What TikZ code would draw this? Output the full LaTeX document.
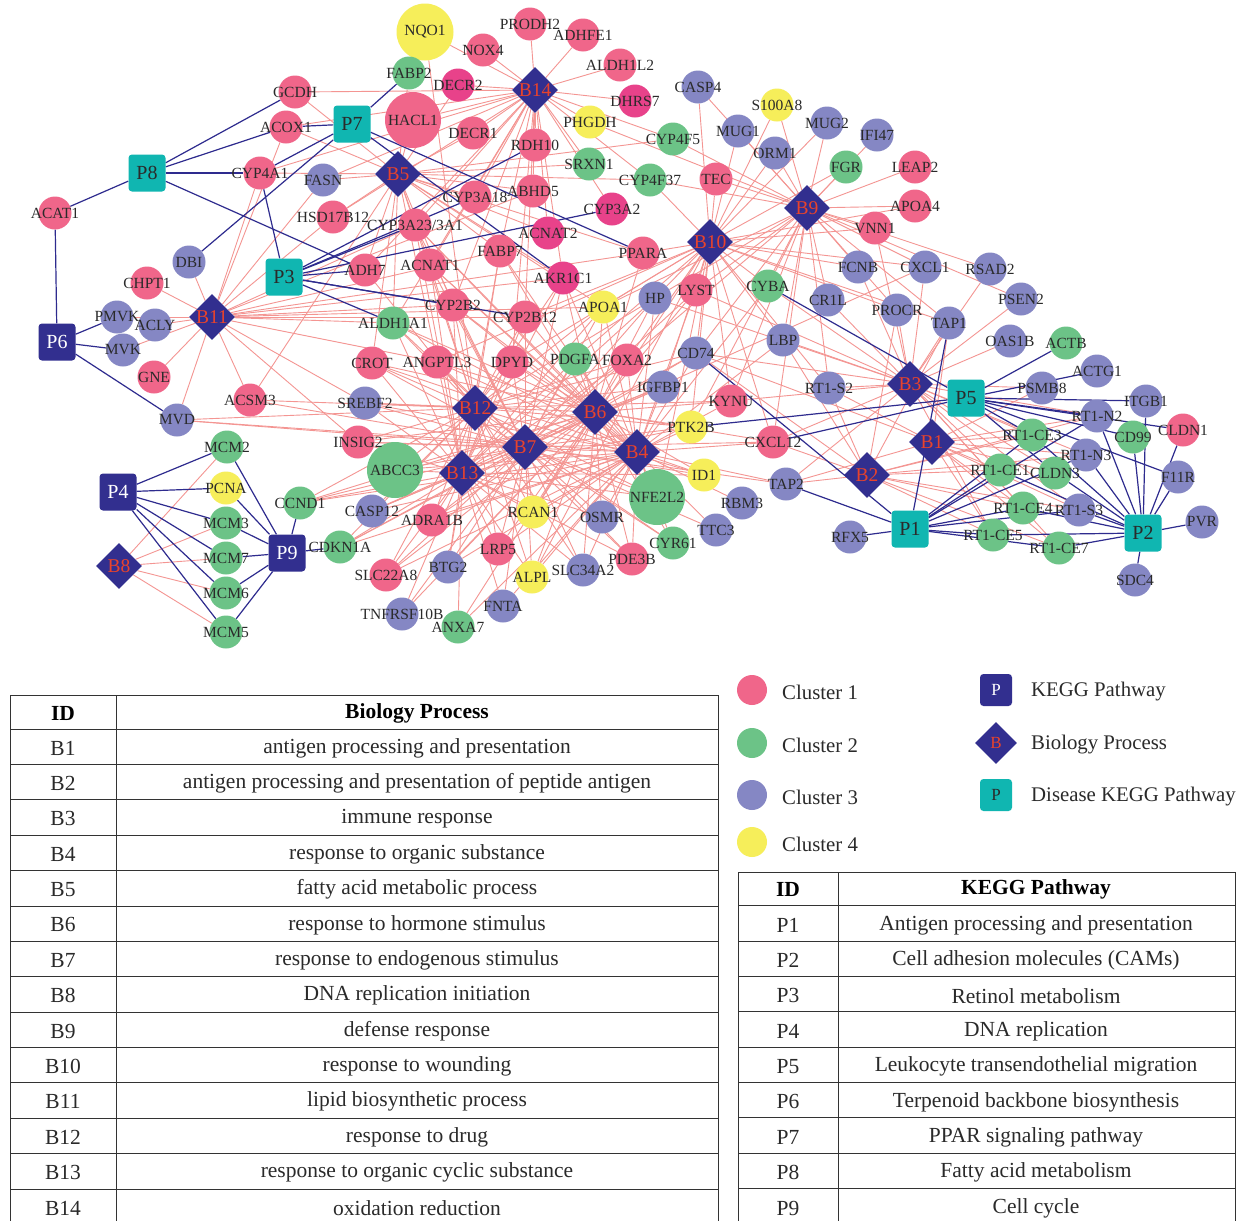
\documentclass[tikz,border=0pt]{standalone}
\usepackage{fontspec}
\setmainfont{Liberation Serif}
\usetikzlibrary{shapes.geometric,backgrounds}
\pgfdeclarelayer{fg}
\pgfsetlayers{background,main,fg}
\definecolor{cA}{HTML}{F0668A}
\definecolor{cM}{HTML}{E8428A}
\definecolor{cG}{HTML}{6CC387}
\definecolor{cL}{HTML}{8587C4}
\definecolor{cY}{HTML}{F6EE5A}
\definecolor{navyc}{HTML}{322F8F}
\definecolor{tealc}{HTML}{10B6B1}
\definecolor{bred}{HTML}{E8432C}
\definecolor{epink}{HTML}{F49592}
\definecolor{enavy}{HTML}{2E2B8E}
\definecolor{txt}{HTML}{2A2A2A}
\newcommand{\tabfont}{\fontsize{21.5}{24}\selectfont}
\newcommand{\legfont}{\fontsize{20.8}{24}\selectfont}
\newcommand{\gn}[5][33]{%
  \node[gcirc,fill=#5,minimum size=#1pt] (#2) at (#3) {};
  \begin{pgfonlayer}{fg}\node[glab] (#2t) at (#3) {#4};\end{pgfonlayer}}
\begin{document}
\begin{tikzpicture}[x=1pt,y=-1pt,
  gcirc/.style={circle,draw=none,inner sep=0pt},
  glab/.style={inner sep=0pt,text=txt,font=\fontsize{15.5}{16}\selectfont},
  bdia/.style={diamond,fill=navyc,inner sep=0pt,minimum size=46pt,text=bred,font=\fontsize{19.5}{19.5}\selectfont},
  pteal/.style={rectangle,rounded corners=3.5pt,fill=tealc,minimum size=37pt,inner sep=0pt,text=txt,font=\fontsize{20}{20}\selectfont},
  pnavy/.style={rectangle,rounded corners=3.5pt,fill=navyc,minimum size=37pt,inner sep=0pt,text=white,font=\fontsize{20}{20}\selectfont},
  pe/.style={draw=epink,line width=0.9pt},
  ne/.style={draw=enavy,line width=1.2pt},
  tl/.style={draw=black!80,line width=0.8pt},
  tt/.style={inner sep=0pt,text=txt,font=\tabfont},
  lt/.style={inner sep=0pt,text=txt,font=\legfont,anchor=west},
  th/.style={inner sep=0pt,text=black,font=\tabfont\bfseries}]
\useasboundingbox (0,0) rectangle (1245,1221);
% ---------- gene nodes ----------
\gn[57]{NQO1}{425,32}{NQO1}{cY}
\gn{PRODH2}{530,24}{PRODH2}{cA}
\gn{ADHFE1}{583,35}{ADHFE1}{cA}
\gn{NOX4}{483,50}{NOX4}{cA}
\gn{ALDH1L2}{620,65}{ALDH1L2}{cA}
\gn{FABP2}{409,73}{FABP2}{cG}
\gn{DECR2}{458,85}{DECR2}{cM}
\gn{DHRS7}{635,101}{DHRS7}{cM}
\gn{CASP4}{698,87}{CASP4}{cL}
\gn{S100A8}{777,105}{S100A8}{cY}
\gn{MUG2}{827,123}{MUG2}{cL}
\gn{IFI47}{877,135}{IFI47}{cL}
\gn{MUG1}{738,131}{MUG1}{cL}
\gn{ORM1}{775,153}{ORM1}{cL}
\gn{FGR}{846,167}{FGR}{cG}
\gn{LEAP2}{915,167}{LEAP2}{cA}
\gn{APOA4}{915,206}{APOA4}{cA}
\gn{VNN1}{875,228}{VNN1}{cA}
\gn{TEC}{716,179}{TEC}{cA}
\gn{CYP4F5}{673,139}{CYP4F5}{cG}
\gn{CYP4F37}{650,180}{CYP4F37}{cG}
\gn{PHGDH}{590,122}{PHGDH}{cY}
\gn{SRXN1}{589,164}{SRXN1}{cG}
\gn{CYP3A2}{612,209}{CYP3A2}{cM}
\gn{RDH10}{535,145}{RDH10}{cA}
\gn{ABHD5}{533,191}{ABHD5}{cA}
\gn{DECR1}{473,133}{DECR1}{cA}
\gn[56]{HACL1}{413,120}{HACL1}{cA}
\gn{FASN}{323,180}{FASN}{cL}
\gn{CYP3A18}{475,197}{CYP3A18}{cA}
\gn{HSD17B12}{333,217}{HSD17B12}{cA}
\gn{CYPtt}{415,225}{CYP3A23/3A1}{cA}
\gn{ACNAT2}{548,233}{ACNAT2}{cM}
\gn{FABP7}{500,251}{FABP7}{cA}
\gn{ADH7}{365,270}{ADH7}{cA}
\gn{ACNAT1}{430,265}{ACNAT1}{cA}
\gn{AKR1C1}{563,278}{AKR1C1}{cM}
\gn{PPARA}{643,253}{PPARA}{cA}
\gn{LYST}{696,290}{LYST}{cA}
\gn{HP}{655,298}{HP}{cL}
\gn{APOA1}{603,307}{APOA1}{cY}
\gn{CYBA}{768,286}{CYBA}{cG}
\gn{CR1L}{828,300}{CR1L}{cL}
\gn{FCNB}{858,267}{FCNB}{cL}
\gn{CXCL1}{925,267}{CXCL1}{cL}
\gn{PROCR}{897,310}{PROCR}{cL}
\gn{RSAD2}{990,269}{RSAD2}{cL}
\gn{PSEN2}{1021,299}{PSEN2}{cL}
\gn{TAP1}{949,323}{TAP1}{cL}
\gn{OAS1B}{1010,341}{OAS1B}{cL}
\gn{ACTB}{1066,343}{ACTB}{cG}
\gn{ACTG1}{1097,371}{ACTG1}{cL}
\gn{PSMB8}{1042,388}{PSMB8}{cL}
\gn{ITGB1}{1146,401}{ITGB1}{cL}
\gn{RTN2}{1097,416}{RT1-N2}{cL}
\gn{CLDN1}{1183,430}{CLDN1}{cA}
\gn{CD99}{1133,437}{CD99}{cG}
\gn{RTCE3}{1032,435}{RT1-CE3}{cG}
\gn{RTN3}{1086,455}{RT1-N3}{cL}
\gn{F11R}{1178,477}{F11R}{cL}
\gn{RTCE1}{1000,470}{RT1-CE1}{cG}
\gn{CLDN3}{1055,473}{CLDN3}{cG}
\gn{RTCE4}{1023,508}{RT1-CE4}{cG}
\gn{RTS3}{1079,510}{RT1-S3}{cL}
\gn{RTCE5}{993,535}{RT1-CE5}{cG}
\gn{RTCE7}{1059,548}{RT1-CE7}{cG}
\gn{PVR}{1202,522}{PVR}{cL}
\gn{SDC4}{1135,580}{SDC4}{cL}
\gn{RFX5}{850,537}{RFX5}{cL}
\gn{TAP2}{786,484}{TAP2}{cL}
\gn{CXCL12}{773,442}{CXCL12}{cA}
\gn{RBM3}{742,503}{RBM3}{cL}
\gn{TTC3}{716,530}{TTC3}{cL}
\gn{ID1}{704,475}{ID1}{cY}
\gn[56]{NFE2L2}{657,497}{NFE2L2}{cG}
\gn{CYR61}{673,543}{CYR61}{cG}
\gn{PDE3B}{632,559}{PDE3B}{cA}
\gn{PTK2B}{691,427}{PTK2B}{cY}
\gn{KYNU}{731,401}{KYNU}{cA}
\gn{RTS2}{829,388}{RT1-S2}{cL}
\gn{LBP}{783,340}{LBP}{cL}
\gn{CD74}{696,353}{CD74}{cL}
\gn{IGFBP1}{663,387}{IGFBP1}{cL}
\gn{FOXA2}{627,360}{FOXA2}{cA}
\gn{PDGFA}{575,359}{PDGFA}{cG}
\gn{DPYD}{512,362}{DPYD}{cA}
\gn{ANGPTL3}{437,362}{ANGPTL3}{cA}
\gn{CROT}{372,363}{CROT}{cA}
\gn{ALDH1A1}{393,323}{ALDH1A1}{cG}
\gn{CYP2B2}{453,305}{CYP2B2}{cA}
\gn{CYP2B12}{525,317}{CYP2B12}{cA}
\gn{SREBF2}{365,403}{SREBF2}{cL}
\gn{INSIG2}{358,442}{INSIG2}{cA}
\gn[56]{ABCC3}{395,470}{ABCC3}{cG}
\gn{CASP12}{372,511}{CASP12}{cL}
\gn{ADRA1B}{432,520}{ADRA1B}{cA}
\gn{RCAN1}{533,512}{RCAN1}{cY}
\gn{OSMR}{602,517}{OSMR}{cL}
\gn{CDKN1A}{340,547}{CDKN1A}{cG}
\gn{LRP5}{498,549}{LRP5}{cA}
\gn{BTG2}{448,567}{BTG2}{cL}
\gn{SLC22A8}{386,575}{SLC22A8}{cA}
\gn{ALPL}{532,577}{ALPL}{cY}
\gn{SLC34A2}{583,570}{SLC34A2}{cL}
\gn{FNTA}{503,606}{FNTA}{cL}
\gn{TNFRSF10B}{402,614}{TNFRSF10B}{cL}
\gn{ANXA7}{458,627}{ANXA7}{cG}
\gn{CCND1}{300,503}{CCND1}{cG}
\gn{MCM2}{227,447}{MCM2}{cG}
\gn{PCNA}{226,488}{PCNA}{cY}
\gn{MCM3}{226,523}{MCM3}{cG}
\gn{MCM7}{226,558}{MCM7}{cG}
\gn{MCM6}{226,593}{MCM6}{cG}
\gn{MCM5}{226,632}{MCM5}{cG}
\gn{MVD}{177,420}{MVD}{cL}
\gn{PMVK}{117,317}{PMVK}{cL}
\gn{ACLY}{155,325}{ACLY}{cL}
\gn{MVK}{123,350}{MVK}{cL}
\gn{GNE}{154,377}{GNE}{cA}
\gn{CHPT1}{147,283}{CHPT1}{cA}
\gn{DBI}{189,262}{DBI}{cL}
\gn{ACSM3}{250,400}{ACSM3}{cA}
\gn{ACAT1}{55,213}{ACAT1}{cA}
\gn{GCDH}{295,92}{GCDH}{cA}
\gn{ACOX1}{286,127}{ACOX1}{cA}
\gn{CYP4A1}{260,173}{CYP4A1}{cA}
% ---------- biology process nodes ----------
\node[bdia] (B14) at (535,90) {B14};
\node[bdia] (B5) at (398,174) {B5};
\node[bdia] (B9) at (807,208) {B9};
\node[bdia] (B10) at (710,242) {B10};
\node[bdia] (B11) at (212,317) {B11};
\node[bdia] (B12) at (475,408) {B12};
\node[bdia] (B6) at (595,412) {B6};
\node[bdia] (B7) at (525,447) {B7};
\node[bdia] (B13) at (462,473) {B13};
\node[bdia] (B4) at (637,452) {B4};
\node[bdia] (B3) at (910,384) {B3};
\node[bdia] (B1) at (932,442) {B1};
\node[bdia] (B2) at (867,475) {B2};
\node[bdia] (B8) at (119,566) {B8};
% ---------- pathway nodes ----------
\node[pteal] (P8) at (147,173) {P8};
\node[pteal] (P7) at (352,124) {P7};
\node[pteal] (P3) at (284,277) {P3};
\node[pnavy] (P6) at (57,342) {P6};
\node[pnavy] (P4) at (118,492) {P4};
\node[pnavy] (P9) at (287,553) {P9};
\node[pteal] (P5) at (966,398) {P5};
\node[pteal] (P1) at (910,529) {P1};
\node[pteal] (P2) at (1143,533) {P2};
% ---------- connectors ----------
\begin{pgfonlayer}{background}
\fill[white] (0,0) rectangle (1245,1221);
\foreach \b/\l in {
 B14/{PRODH2,ADHFE1,NOX4,ALDH1L2,DHRS7,DECR2,NQO1,GCDH,HACL1,DECR1,RDH10,ABHD5,PHGDH,SRXN1,CYP3A2,CYP3A18,CYPtt,ADH7,CYP2B2,CYP2B12,AKR1C1,ACOX1,CYP4A1,HSD17B12,FASN,DPYD,ALDH1A1,CYP4F5,CYP4F37,FABP7,ACNAT1,ACNAT2},
 B5/{GCDH,ACOX1,CYP4A1,FASN,HSD17B12,HACL1,DECR1,DECR2,ABHD5,CYP3A18,CYPtt,ACNAT1,ACNAT2,AKR1C1,CROT,ACSM3,PPARA,APOA1,ADH7,CYP2B2,ALDH1A1,CYP4F5,CYP4F37,FABP7,ANGPTL3,FABP2,SRXN1},
 B11/{DBI,CHPT1,PMVK,ACLY,MVK,GNE,MVD,ACSM3,FASN,HSD17B12,CYP4A1,ACOX1,ALDH1A1,SREBF2,INSIG2,CYP2B12,APOA1,PPARA,ABHD5,AKR1C1,CYPtt,CYP2B2,FABP7,ANGPTL3},
 B9/{S100A8,MUG1,MUG2,ORM1,FGR,IFI47,LEAP2,APOA4,VNN1,TEC,CYP4F5,PHGDH,FCNB,CXCL1,RSAD2,PROCR,CR1L,TAP1,LBP,CYBA,HP,LYST,CD74,APOA1,KYNU,RTS2,CASP4,PSEN2,CXCL12,PTK2B,FOXA2,CYP4F37},
 B10/{PPARA,LYST,HP,APOA1,CYBA,FCNB,CXCL1,TEC,ORM1,S100A8,MUG1,CASP4,CYP4F37,VNN1,PROCR,CD74,LBP,FOXA2,PDGFA,IGFBP1,APOA4,CXCL12,ANGPTL3,TAP1,RTS2,KYNU,CYP2B12,DPYD,MUG2,FGR,ALPL,RCAN1,NFE2L2,PTK2B},
 B3/{TAP1,TAP2,CD74,RTS2,RTCE1,RTCE3,RTCE4,RTCE5,RTCE7,RTN2,RTN3,RTS3,PSMB8,CXCL1,RSAD2,PSEN2,OAS1B,PROCR,CR1L,LBP,FCNB,CYBA,HP,CXCL12,LYST,KYNU,VNN1,CLDN3},
 B1/{TAP1,TAP2,CD74,RTCE1,RTCE3,RTCE4,RTCE5,RTCE7,RTS2,RTS3,RTN2,RTN3,PSMB8,CLDN3},
 B2/{TAP1,TAP2,CD74,RTCE1,RTCE3,RTCE4,RTCE5,RTCE7,RTS2,RTS3,RTN2,RTN3,LBP,PROCR,CXCL12},
 B8/{MCM2,MCM3,MCM7,MCM6,MCM5},
 B12/{ABCC3,CASP12,ADRA1B,CDKN1A,CCND1,SLC22A8,BTG2,ALPL,RCAN1,PDE3B,NFE2L2,ID1,PTK2B,IGFBP1,FOXA2,DPYD,ANGPTL3,CROT,ALDH1A1,CYP2B2,CYP2B12,APOA1,HP,CD74,KYNU,INSIG2,SREBF2,AKR1C1,ACNAT1,CYPtt,FABP7,NQO1,MVD,SLC34A2,LRP5,CYR61,ADH7,ACSM3},
 B6/{CCND1,CDKN1A,ABCC3,CASP12,ADRA1B,BTG2,LRP5,ALPL,RCAN1,SLC34A2,OSMR,PDE3B,CYR61,NFE2L2,ID1,PTK2B,IGFBP1,FOXA2,PDGFA,DPYD,ANGPTL3,ALDH1A1,CYP2B2,AKR1C1,APOA1,HP,CD74,KYNU,CXCL12,INSIG2,SREBF2,CROT,TNFRSF10B,ANXA7,SLC22A8,LYST,PPARA,ACNAT1,FABP7,CYPtt},
 B7/{CCND1,CDKN1A,ABCC3,CASP12,ADRA1B,BTG2,LRP5,ALPL,RCAN1,SLC34A2,OSMR,PDE3B,CYR61,NFE2L2,ID1,TTC3,PTK2B,IGFBP1,FOXA2,PDGFA,DPYD,ANGPTL3,CROT,ALDH1A1,CYP2B2,CYP2B12,APOA1,HP,CD74,CXCL12,INSIG2,SREBF2,FNTA,TNFRSF10B,SLC22A8,MVD,ACSM3,AKR1C1,ACNAT1,CYPtt,LYST,CXCL1,TAP2},
 B13/{CCND1,CDKN1A,ABCC3,CASP12,ADRA1B,BTG2,LRP5,ALPL,RCAN1,SLC34A2,OSMR,PDE3B,NFE2L2,ID1,PTK2B,IGFBP1,FOXA2,PDGFA,DPYD,ANGPTL3,CROT,ALDH1A1,CYP2B2,CYP2B12,APOA1,HP,INSIG2,SREBF2,SLC22A8,ANXA7,FNTA,TNFRSF10B,ACNAT1,CYPtt,AKR1C1,FABP7},
 B4/{CCND1,CDKN1A,ABCC3,CASP12,ADRA1B,BTG2,LRP5,ALPL,RCAN1,SLC34A2,OSMR,PDE3B,CYR61,NFE2L2,ID1,TTC3,RBM3,PTK2B,IGFBP1,FOXA2,PDGFA,DPYD,ANGPTL3,ALDH1A1,CYP2B2,CYP2B12,APOA1,HP,CD74,KYNU,CXCL12,TAP2,LBP,INSIG2,SREBF2,CROT,FNTA,ANXA7,SLC22A8,LYST,CYBA,AKR1C1,ACNAT1,FABP7,CYPtt,MVD}}
 {\foreach \g in \l {\draw[pe] (\b) -- (\g);}}
\foreach \p/\l in {
 P8/{GCDH,ACOX1,CYP4A1,ACAT1,ADH7},
 P6/{ACAT1,PMVK,MVK,MVD},
 P7/{FABP2,ACOX1,CYP4A1,PPARA,DBI,AKR1C1},
 P3/{CYP4A1,ADH7,CYPtt,RDH10,CYP3A2,CYP2B2,CYP2B12,ALDH1A1,CYP3A18},
 P4/{MCM2,PCNA,MCM3,MCM7,MCM6,MCM5},
 P9/{MCM2,PCNA,MCM3,MCM7,MCM6,MCM5,CCND1,CDKN1A},
 P1/{TAP1,TAP2,RFX5,CD74,RTCE1,RTCE3,RTCE4,RTCE5,RTCE7,RTS3,RTN2,RTN3},
 P5/{ACTB,ACTG1,ITGB1,CLDN1,CLDN3,CD99,F11R,PTK2B,CXCL12,CYBA,RTN2,RTCE3},
 P2/{RTCE1,RTCE3,RTCE4,RTCE5,RTCE7,RTS3,RTN2,RTN3,CD99,CLDN1,CLDN3,F11R,PVR,SDC4,ITGB1}}
 {\foreach \g in \l {\draw[ne] (\p) -- (\g);}}
\end{pgfonlayer}
% ---------- legend ----------
\node[gcirc,fill=cA,minimum size=30pt] (lg1) at (752,690) {};
\node[gcirc,fill=cG,minimum size=30pt] (lg2) at (752,743) {};
\node[gcirc,fill=cL,minimum size=30pt] (lg3) at (752,795) {};
\node[gcirc,fill=cY,minimum size=30pt] (lg4) at (752,842) {};
\node[lt] (lt1) at (782,692) {Cluster 1};
\node[lt] (lt2) at (782,745) {Cluster 2};
\node[lt] (lt3) at (782,797) {Cluster 3};
\node[lt] (lt4) at (782,844) {Cluster 4};
\node[pnavy,minimum size=32pt,font=\fontsize{17}{17}\selectfont] (lgP) at (996,690) {P};
\node[bdia,minimum size=42pt,font=\fontsize{17}{17}\selectfont] (lgB) at (996,743) {B};
\node[pteal,minimum size=32pt,font=\fontsize{17}{17}\selectfont] (lgD) at (996,795) {P};
\node[lt] (lt5) at (1031,692) {KEGG Pathway};
\node[lt] (lt6) at (1031,745) {Biology Process};
\node[lt] (lt7) at (1031,797) {Disease KEGG Pathway};
% ---------- left table ----------
\draw[tl] (10,695) -- (718,695);
\foreach \k in {0,...,13} \draw[tl] (10,{729+\k*35.38}) -- (718,{729+\k*35.38});
\draw[tl] (10,695) -- (10,1221);
\draw[tl] (116,695) -- (116,1221);
\draw[tl] (718,695) -- (718,1221);
\node[th] (lh1) at (63,713) {ID};
\node[th] (lh2) at (417,713) {Biology Process};
\foreach \i/\t in {1/{antigen processing and presentation},2/{antigen processing and presentation of peptide antigen},3/{immune response},4/{response to organic substance},5/{fatty acid metabolic process},6/{response to hormone stimulus},7/{response to endogenous stimulus},8/{DNA replication initiation},9/{defense response},10/{response to wounding},11/{lipid biosynthetic process},12/{response to drug},13/{response to organic cyclic substance},14/{oxidation reduction}}
{\node[tt] (lid\i) at (63,{748+(\i-1)*35.38}) {B\i};
 \node[tt] (ltx\i) at (417,{748+(\i-1)*35.38}) {\t};}
% ---------- right table ----------
\draw[tl] (738,872) -- (1235,872);
\foreach \k in {0,...,8} \draw[tl] (738,{905.6+\k*35.375}) -- (1235,{905.6+\k*35.375});
\draw[tl] (738,872) -- (738,1221);
\draw[tl] (838,872) -- (838,1221);
\draw[tl] (1235,872) -- (1235,1221);
\node[th] (rh1) at (788,889) {ID};
\node[th] (rh2) at (1036,889) {KEGG Pathway};
\foreach \i/\t in {1/{Antigen processing and presentation},2/{Cell adhesion molecules (CAMs)},3/{Retinol metabolism},4/{DNA replication},5/{Leukocyte transendothelial migration},6/{Terpenoid backbone biosynthesis},7/{PPAR signaling pathway},8/{Fatty acid metabolism},9/{Cell cycle}}
{\node[tt] (rid\i) at (788,{925+(\i-1)*35.375}) {P\i};
 \node[tt] (rtx\i) at (1036,{925+(\i-1)*35.375}) {\t};}
\end{tikzpicture}
\end{document}
